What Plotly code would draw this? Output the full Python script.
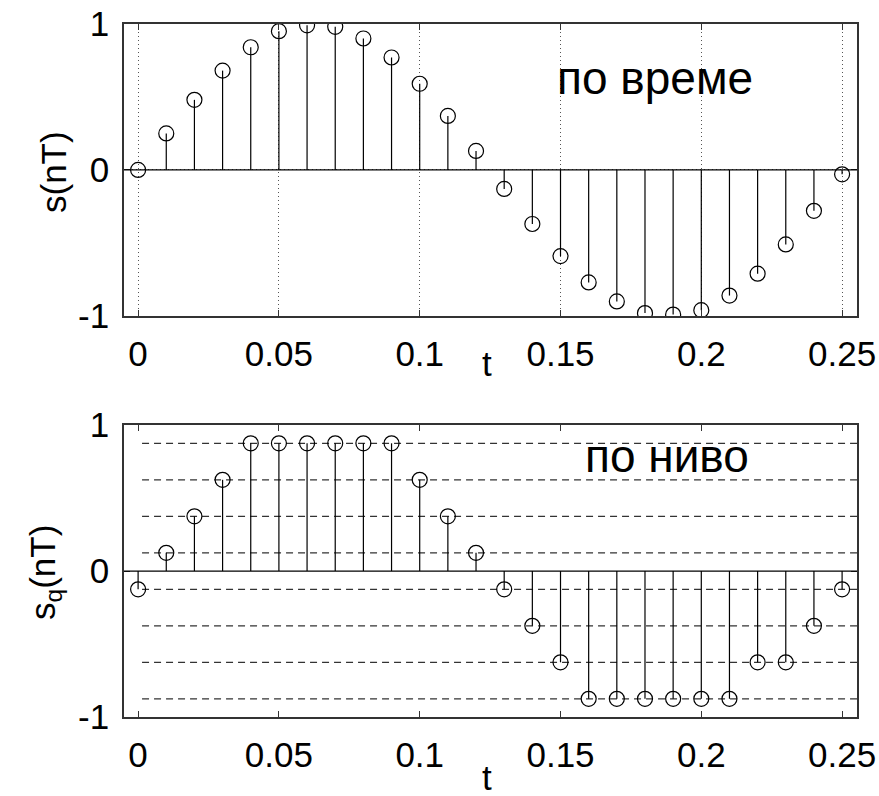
import plotly.graph_objects as go

# ---- data ----
t = [0.00, 0.01, 0.02, 0.03, 0.04, 0.05, 0.06, 0.07, 0.08, 0.09, 0.10, 0.11, 0.12,
     0.13, 0.14, 0.15, 0.16, 0.17, 0.18, 0.19, 0.20, 0.21, 0.22, 0.23, 0.24, 0.25]
s = [0.00, 0.25, 0.48, 0.68, 0.84, 0.95, 0.99, 0.98, 0.90, 0.77, 0.59, 0.37, 0.13,
     -0.13, -0.37, -0.59, -0.77, -0.90, -0.98, -0.99, -0.96, -0.86, -0.71, -0.51, -0.28, -0.03]
sq = [-0.125, 0.125, 0.375, 0.625, 0.875, 0.875, 0.875, 0.875, 0.875, 0.875, 0.625, 0.375, 0.125,
      -0.125, -0.375, -0.625, -0.875, -0.875, -0.875, -0.875, -0.875, -0.875, -0.625, -0.625, -0.375, -0.125]
levels = [-0.875, -0.625, -0.375, -0.125, 0.125, 0.375, 0.625, 0.875]
xtick_vals = [0, 0.05, 0.1, 0.15, 0.2, 0.25]
xtick_text = ["0", "0.05", "0.1", "0.15", "0.2", "0.25"]
ytick_vals = [-1, 0, 1]
ytick_text = ["-1", "0", "1"]
xrange_ = [-0.005, 0.2553]
level_x = [0.0014, 0.2553]

FONT = "Liberation Sans, Arial, sans-serif"
fig = go.Figure()

def stems(xs, ys):
    sx, sy = [], []
    for a, b in zip(xs, ys):
        sx += [a, a, None]
        sy += [0, b, None]
    return sx, sy

# bottom dashed levels (drawn first, beneath)
for lv in levels:
    fig.add_trace(go.Scatter(x=level_x, y=[lv, lv], mode="lines", xaxis="x2", yaxis="y2",
                             line=dict(color="#333333", width=1.3, dash="7px,5px"),
                             hoverinfo="skip", showlegend=False))

for xa, ya, vals in [("x", "y", s), ("x2", "y2", sq)]:
    sx, sy = stems(t, vals)
    fig.add_trace(go.Scatter(x=sx, y=sy, mode="lines", xaxis=xa, yaxis=ya,
                             line=dict(color="black", width=1.2), showlegend=False,
                             hoverinfo="skip"))
    fig.add_trace(go.Scatter(x=t, y=vals, mode="markers", xaxis=xa, yaxis=ya,
                             marker=dict(symbol="circle-open", size=15, color="black",
                                         line=dict(width=1.2, color="black")),
                             showlegend=False))

# baselines
for xr, yr in [("x", "y"), ("x2", "y2")]:
    fig.add_shape(type="line", xref=f"{xr} domain", yref=yr, x0=0, x1=1, y0=0, y1=0,
                  line=dict(color="black", width=1.3))

TICKSIZE = 35
axis_common = dict(showline=True, linecolor="#333333", linewidth=1.6, mirror="ticks",
                   ticks="inside", ticklen=6, tickwidth=1.3, tickcolor="#333333",
                   zeroline=False, automargin=False,
                   tickfont=dict(family=FONT, size=TICKSIZE, color="black"))

top_dom = [0.603, 0.970]
bot_dom = [0.0992, 0.466]
xdom = [0.1411, 0.975]

fig.update_layout(
    width=879, height=796, autosize=False,
    margin=dict(l=0, r=0, t=0, b=0),
    paper_bgcolor="white", plot_bgcolor="white",
    showlegend=False,
    xaxis=dict(domain=xdom, anchor="y", range=xrange_, tickvals=xtick_vals, ticktext=xtick_text,
               showgrid=True, gridcolor="#555555", griddash="1px,3px", gridwidth=1.2,
               ticklabelstandoff=6, **axis_common),
    yaxis=dict(domain=top_dom, anchor="x", range=[-1, 1], tickvals=ytick_vals, ticktext=ytick_text,
               showgrid=True, gridcolor="#555555", griddash="1px,3px", gridwidth=1.2,
               ticklabelstandoff=6, **axis_common),
    xaxis2=dict(domain=xdom, anchor="y2", range=xrange_, tickvals=xtick_vals, ticktext=xtick_text,
                showgrid=False, ticklabelstandoff=6, **axis_common),
    yaxis2=dict(domain=bot_dom, anchor="x2", range=[-1, 1], tickvals=ytick_vals, ticktext=ytick_text,
                showgrid=False, ticklabelstandoff=6, **axis_common),
)

ann_font = dict(family=FONT, size=TICKSIZE, color="black")
big_font = dict(family=FONT, size=46, color="black")
fig.add_annotation(text="s(nT)", xref="paper", yref="paper", x=53 / 879, y=(796 - 172) / 796,
                   textangle=-90, showarrow=False, font=ann_font, xanchor="center", yanchor="middle")
fig.add_annotation(text="s<sub>q</sub>(nT)", xref="paper", yref="paper", x=45 / 879, y=(796 - 573) / 796,
                   textangle=-90, showarrow=False, font=ann_font, xanchor="center", yanchor="middle")
fig.add_annotation(text="t", xref="paper", yref="paper", x=487 / 879, y=(796 - 363) / 796,
                   showarrow=False, font=ann_font, xanchor="center", yanchor="middle")
fig.add_annotation(text="t", xref="paper", yref="paper", x=487 / 879, y=(796 - 777) / 796,
                   showarrow=False, font=ann_font, xanchor="center", yanchor="middle")
fig.add_annotation(text="по време", xref="x", yref="y", x=0.148, y=0.63,
                   showarrow=False, font=big_font, xanchor="left", yanchor="middle")
fig.add_annotation(text="по ниво", xref="x2", yref="y2", x=0.158, y=0.79,
                   showarrow=False, font=big_font, xanchor="left", yanchor="middle")

fig.write_html("out.html")
